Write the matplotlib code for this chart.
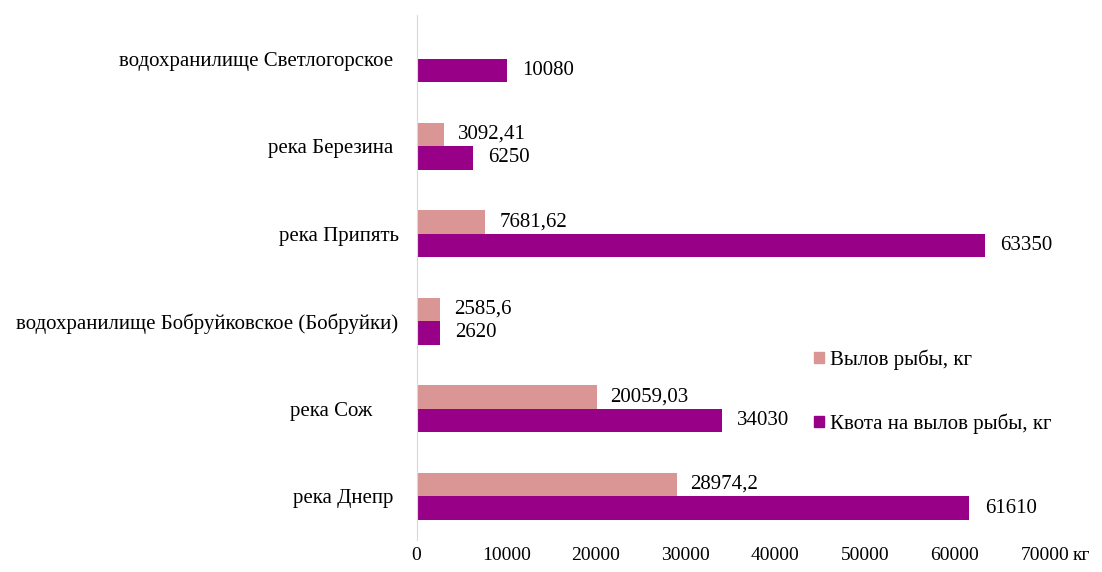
import numpy as np
import matplotlib
matplotlib.use('Agg')
import matplotlib.pyplot as plt

plt.rcParams['font.family'] = ['Liberation Serif', 'DejaVu Serif']

# reservoirs / rivers, bottom to top (trailing spaces kept as in the source table)
places = ['река Днепр ', 'река Сож     ', 'водохранилище Бобруйковское (Бобруйки)',
          'река Припять', 'река Березина ', 'водохранилище Светлогорское ']
catch = [28974.2, 20059.03, 2585.6, 7681.62, 3092.41, None]
quota = [61610, 34030, 2620, 63350, 6250, 10080]

catch_name = 'Вылов рыбы, кг'
quota_name = 'Квота на вылов рыбы, кг'
xticks = [0, 10000, 20000, 30000, 40000, 50000, 60000, 70000]

c_catch = '#D99694'
c_quota = '#990088'
fs = 15


def fmt(v):
    return str(v).replace('.', ',')


fig = plt.figure(figsize=(11.02, 5.72), dpi=100)
ax = fig.add_axes([0.378, 0.056, 0.570, 0.918])

y = np.arange(len(places))
h = 0.27

for i, v in enumerate(catch):
    if v is None:
        continue
    ax.barh(y[i] + h / 2, v, height=h, color=c_catch)
    ax.annotate(fmt(v), (v, y[i] + h / 2), xytext=(10, 0), textcoords='offset points',
                va='center', ha='left', fontsize=fs)
for i, v in enumerate(quota):
    ax.barh(y[i] - h / 2, v, height=h, color=c_quota)
    ax.annotate(fmt(v), (v, y[i] - h / 2), xytext=(11, 0), textcoords='offset points',
                va='center', ha='left', fontsize=fs)

ax.set_xlim(0, 70000)
ax.set_ylim(-0.5, len(places) - 0.5)
ax.set_xticks(xticks)
ax.set_xticklabels([str(t) for t in xticks], fontsize=14)
ax.set_yticks(y)
ax.set_yticklabels(places, fontsize=fs)
ax.tick_params(length=0)
ax.tick_params(axis='y', pad=13)
ax.tick_params(axis='x', pad=5)

for s in ['top', 'right', 'bottom']:
    ax.spines[s].set_visible(False)
ax.spines['left'].set_color('#D9D9D9')

# unit label after the last tick
ax.annotate('кг', (1.0, 0), xycoords='axes fraction', xytext=(20, -5),
            textcoords='offset points', fontsize=14, ha='left', va='top')

handles = [plt.Rectangle((0, 0), 1, 1, color=c_catch),
           plt.Rectangle((0, 0), 1, 1, color=c_quota)]
fig.legend(handles, [catch_name, quota_name], loc='center left',
           bbox_to_anchor=(0.739, 0.315), frameon=False, fontsize=fs,
           borderpad=0, borderaxespad=0,
           handlelength=0.45, handleheight=0.45, handletextpad=0.3,
           labelspacing=2.1)

fig.savefig('out.png', dpi=100)
